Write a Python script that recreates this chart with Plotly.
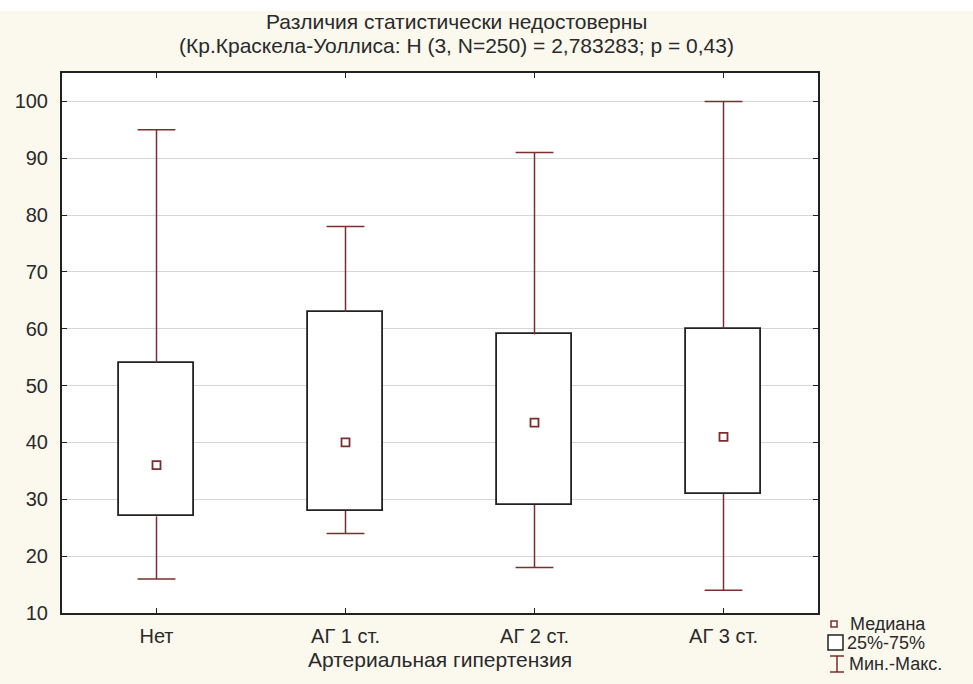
import plotly.graph_objects as go

# Summary statistics per group
categories = ["Нет", "АГ 1 ст.", "АГ 2 ст.", "АГ 3 ст."]
minimum = [16, 24, 18, 14]
q1 = [27, 28, 29, 31]
median = [36, 40, 43.5, 41]
q3 = [54, 63, 59, 60]
maximum = [95, 78, 91, 100]
y_ticks = [10, 20, 30, 40, 50, 60, 70, 80, 90, 100]

WHISKER = "#7a2e2e"
EDGE = "#222222"
CREAM = "#fbf8ee"
TEXT = "#2a2a2a"
FONT = "Liberation Sans, Arial, sans-serif"
BOX_W = 0.4
CAP_W = 0.2

xs = list(range(len(categories)))

fig = go.Figure()

# whiskers: stem from box edge to extreme plus a horizontal cap
wx, wy = [], []
for i, x in enumerate(xs):
    wx += [x, x, None, x - CAP_W / 2, x + CAP_W / 2, None]
    wy += [q3[i], maximum[i], None, maximum[i], maximum[i], None]
    wx += [x, x, None, x - CAP_W / 2, x + CAP_W / 2, None]
    wy += [q1[i], minimum[i], None, minimum[i], minimum[i], None]
fig.add_trace(go.Scatter(x=wx, y=wy, mode="lines",
                         line=dict(color=WHISKER, width=1.5),
                         hoverinfo="skip", showlegend=False))

# interquartile boxes
fig.add_trace(go.Bar(x=xs, y=[b - a for a, b in zip(q1, q3)], base=q1,
                     width=BOX_W, marker=dict(color="white",
                                              line=dict(color=EDGE, width=1.8)),
                     showlegend=False))

# medians
fig.add_trace(go.Scatter(x=xs, y=median, mode="markers",
                         marker=dict(symbol="square", size=8, color="white",
                                     line=dict(color=WHISKER, width=1.8)),
                         showlegend=False))

fig.update_layout(
    width=973, height=684,
    margin=dict(l=62, r=155, t=73, b=71),
    paper_bgcolor=CREAM, plot_bgcolor="white",
    font=dict(family=FONT, size=20, color=TEXT),
    bargap=0,
    xaxis=dict(range=[-0.5, 3.5], tickvals=xs, ticktext=categories,
               showgrid=False, zeroline=False, showline=True, linecolor=EDGE,
               linewidth=2, mirror="ticks", ticks="inside", ticklen=5,
               tickcolor=EDGE, tickfont=dict(size=20), ticklabelstandoff=4,
               title=dict(text="Артериальная гипертензия", font=dict(size=21),
                          standoff=6)),
    yaxis=dict(range=[10, 105], tickvals=y_ticks, showgrid=True,
               gridcolor="#d6d6d6", gridwidth=1, zeroline=False, showline=True,
               linecolor=EDGE, linewidth=2, mirror="ticks", ticks="inside",
               ticklen=5, tickcolor=EDGE, tickfont=dict(size=20),
               ticklabelstandoff=8),
)

# white strip along the top edge
fig.add_shape(type="rect", xref="paper", yref="paper", x0=-1, x1=2,
              y0=1 + (73 - 11) / 540, y1=1.2, fillcolor="white", line_width=0,
              layer="below")

# two-line title
fig.add_annotation(text="Различия статистически недостоверны", xref="paper",
                   yref="paper", x=(456 - 62) / 756, y=1 + (73 - 22) / 540,
                   showarrow=False, font=dict(size=21), yanchor="middle")
fig.add_annotation(text="(Кр.Краскела-Уоллиса: H (3, N=250) = 2,783283; p = 0,43)",
                   xref="paper", yref="paper", x=(457 - 62) / 756,
                   y=1 + (73 - 46) / 540, showarrow=False, font=dict(size=21),
                   yanchor="middle")

# legend key in the lower right corner
def px(x):
    return (x - 62) / 756

def py(y):
    return (613 - y) / 540

fig.add_shape(type="rect", xref="paper", yref="paper", x0=px(831), x1=px(837),
              y0=py(627), y1=py(621), line=dict(color=WHISKER, width=1.5),
              fillcolor="white")
fig.add_shape(type="rect", xref="paper", yref="paper", x0=px(828), x1=px(843),
              y0=py(650), y1=py(635), line=dict(color=EDGE, width=1.5),
              fillcolor="white")
fig.add_shape(type="line", xref="paper", yref="paper", x0=px(837), x1=px(837),
              y0=py(672), y1=py(656), line=dict(color=WHISKER, width=1.5))
fig.add_shape(type="line", xref="paper", yref="paper", x0=px(830), x1=px(844),
              y0=py(672), y1=py(672), line=dict(color=WHISKER, width=1.5))
fig.add_shape(type="line", xref="paper", yref="paper", x0=px(830), x1=px(844),
              y0=py(656), y1=py(656), line=dict(color=WHISKER, width=1.5))
for label, x, y in [("Медиана", 849, 624), ("25%-75%", 846, 643),
                    ("Мин.-Макс.", 848, 664)]:
    fig.add_annotation(text=label, xref="paper", yref="paper", x=px(x),
                       y=py(y), xanchor="left", yanchor="middle",
                       showarrow=False, font=dict(size=18), height=18,
                       borderpad=0)

fig.write_html("out.html")
